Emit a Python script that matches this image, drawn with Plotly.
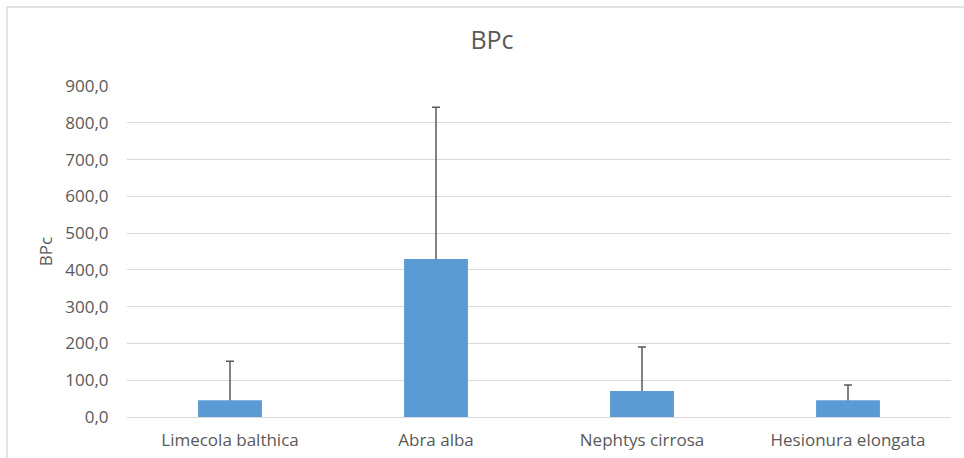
import plotly.graph_objects as go

categories = ["Limecola balthica", "Abra alba", "Nephtys cirrosa", "Hesionura elongata"]
values = [45.4, 429.5, 70.7, 45.4]
errors_plus = [106.0, 413.0, 119.5, 41.5]
tick_vals = [0, 100, 200, 300, 400, 500, 600, 700, 800, 900]
tick_text = ["0,0", "100,0", "200,0", "300,0", "400,0", "500,0", "600,0", "700,0", "800,0", "900,0"]

W, H = 964, 458
ml, mr, mt, mb = 127, 13, 86, 41
pw, ph = W - ml - mr, H - mt - mb

text_color = "#595959"
font_family = "Open Sans"
bar_w = 0.31

# error bars on a transparent bar trace beneath the blue bars, so the lower cap is hidden
fig = go.Figure()
fig.add_trace(go.Bar(
    x=categories, y=values,
    marker=dict(color="rgba(0,0,0,0)", line=dict(width=0)),
    error_y=dict(type="data", array=errors_plus, symmetric=False,
                 arrayminus=[6] * len(values),
                 color="#595959", thickness=1.5, width=4),
    width=bar_w, hoverinfo="skip",
))
fig.add_trace(go.Bar(
    x=categories, y=values,
    marker=dict(color="#5b9bd5", line=dict(width=0)),
    width=bar_w,
))

fig.update_layout(
    width=W, height=H,
    barmode="overlay",
    margin=dict(l=ml, r=mr, t=mt, b=mb, autoexpand=False),
    paper_bgcolor="white", plot_bgcolor="white",
    showlegend=False,
    font=dict(family=font_family, color=text_color, size=17),
    title=dict(text="BPc", x=(492 - ml) / pw, xref="paper", xanchor="center",
               y=1 - 40 / H, yanchor="middle",
               font=dict(size=25, color=text_color, family=font_family)),
    xaxis=dict(showgrid=False, showline=False, zeroline=False, automargin=False,
               tickfont=dict(size=17, color=text_color),
               ticks="outside", ticklen=8, tickcolor="rgba(0,0,0,0)"),
    yaxis=dict(range=[0, 900], tickvals=tick_vals, ticktext=tick_text,
               automargin=False,
               showgrid=True, gridcolor="#d9d9d9", gridwidth=1.3,
               zeroline=True, zerolinecolor="#d9d9d9", zerolinewidth=1.3,
               showline=False,
               tickfont=dict(size=17, color=text_color),
               ticks="outside", ticklen=14, tickcolor="rgba(0,0,0,0)",
               title=dict(text="BPc", font=dict(size=17, color=text_color), standoff=8)),
)

# chart-area border (top and left edges visible in the reference)
x_left = (7 - ml) / pw
y_top = 1 + (mt - 7) / ph
fig.add_shape(type="line", xref="paper", yref="paper", x0=x_left, x1=x_left,
              y0=-0.3, y1=y_top, line=dict(color="#d9d9d9", width=1.5))
fig.add_shape(type="line", xref="paper", yref="paper", x0=x_left, x1=1.2,
              y0=y_top, y1=y_top, line=dict(color="#d9d9d9", width=1.5))

fig.write_html("out.html",
               config={"displayModeBar": False},
               post_script="document.body.style.margin='0';document.body.style.overflow='hidden';")
